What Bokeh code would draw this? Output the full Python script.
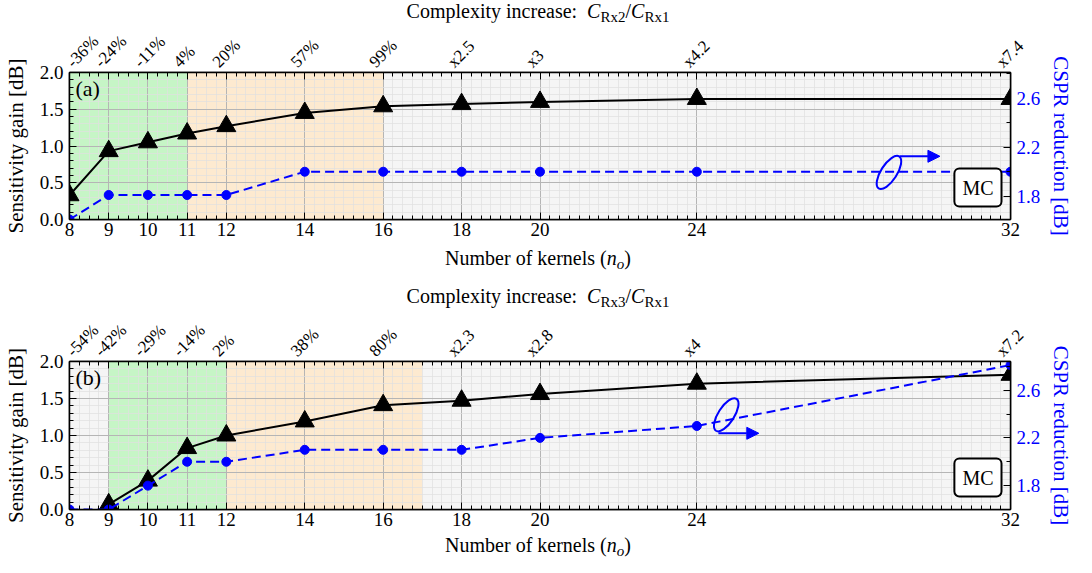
import numpy as np
from bokeh.plotting import figure
from bokeh.models import (Range1d, LinearAxis, FixedTicker, Label, Arrow, NormalHead,
                          PrintfTickFormatter, Div)
from bokeh.layouts import column
from bokeh.embed import file_html
from bokeh.resources import INLINE

# ---------------- data ----------------
kernels = [8, 9, 10, 11, 12, 14, 16, 18, 20, 24, 32]
complexity_a = ["-36%", "-24%", "-11%", "4%", "20%", "57%", "99%", "x2.5", "x3", "x4.2", "x7.4"]
complexity_b = ["-54%", "-42%", "-29%", "-14%", "2%", "38%", "80%", "x2.3", "x2.8", "x4", "x7.2"]
gain_a = [0.33, 0.93, 1.05, 1.17, 1.27, 1.45, 1.54, 1.57, 1.60, 1.64, 1.64]
cspr_a = [1.61, 1.81, 1.81, 1.81, 1.81, 2.0, 2.0, 2.0, 2.0, 2.0, 2.0]
gain_b = [float("nan"), 0.07, 0.39, 0.83, 1.00, 1.19, 1.41, 1.47, 1.56, 1.70, 1.82]
cspr_b = [1.60, 1.60, 1.80, 2.00, 2.00, 2.10, 2.10, 2.10, 2.20, 2.30, 2.81]
zones_a_edges = [8, 11, 16, 32]
zones_a_kind = ["green", "orange", "gray"]
zones_b_edges = [8, 9, 12, 17, 32]
zones_b_kind = ["gray", "green", "orange", "gray"]
cspr_range_a = (1.61, 2.81)
cspr_range_b = (1.60, 2.84)
gain_ticks = [0.0, 0.5, 1.0, 1.5, 2.0]
cspr_ticks = [1.8, 2.2, 2.6]
x_lo, x_hi = 8, 32

ZONE_COLORS = {"green": "#c6f5c6", "orange": "#fdead0", "gray": "#f5f5f5"}
FONT = "Liberation Serif"
W = 1076
LEFT_B = 66
FRAME_W = 950
RIGHT_B = W - LEFT_B - FRAME_W
LABEL_SHIFT = 0.28125  # anchor offset (data units) so rotated labels sit centred on ticks


def style_axis(ax):
    ax.axis_line_color = "black"
    ax.axis_line_width = 1.5
    ax.major_tick_in = 7
    ax.major_tick_out = 0
    ax.minor_tick_in = 4
    ax.minor_tick_out = 0
    ax.major_tick_line_color = "black"
    ax.minor_tick_line_color = "black"
    ax.major_label_text_font = FONT
    ax.major_label_text_font_size = "19px"
    ax.major_label_text_color = "black"
    ax.axis_label_text_font = FONT
    ax.axis_label_text_font_size = "21px"
    ax.axis_label_text_font_style = "normal"
    ax.axis_label_text_color = "black"


def text_div(html, height, line_h, pad_top=0):
    style = (f"display:block;width:{W - 8}px;padding-left:8px;padding-top:{pad_top}px;"
             f"font-family:'{FONT}';font-size:20px;color:black;text-align:center;"
             f"line-height:{line_h}px;margin:0;white-space:nowrap;")
    return Div(text=f'<div style="{style}">{html}</div>', width=W, height=height, margin=0)


SUB = '<span style="font-size:15px;position:relative;top:4px;">{}</span>'


def title_html(num):
    return ("Complexity increase:&nbsp; <i>C</i>" + SUB.format("Rx" + num) + "/<i>C</i>" + SUB.format("Rx1"))


XLABEL_HTML = "Number of kernels (<i>n</i>" + SUB.format("<i>o</i>") + ")"


def panel(tag, labels, gain, cspr, edges, kinds, cspr_range, top, frame_h, bottom,
          loop_xy, arrow_xy):
    p = figure(width=W, height=top + frame_h + bottom, x_range=Range1d(x_lo, x_hi),
               y_range=Range1d(0, 2), output_backend="svg", toolbar_location=None,
               min_border_left=LEFT_B, min_border_right=RIGHT_B,
               min_border_top=top, min_border_bottom=bottom,
               background_fill_color="white", border_fill_color="white",
               outline_line_color="black", outline_line_width=1.5)
    p.extra_y_ranges = {"cspr": Range1d(*cspr_range)}

    xt = FixedTicker(ticks=kernels, minor_ticks=list(np.arange(x_lo, x_hi + 0.001, 0.25)))
    yt = FixedTicker(ticks=gain_ticks, minor_ticks=list(np.arange(0, 2.001, 0.1)))
    rt = FixedTicker(ticks=cspr_ticks, minor_ticks=list(np.arange(1.4, 3.0, 0.2)))

    p.xaxis.ticker = xt
    p.yaxis.ticker = yt
    p.yaxis.formatter = PrintfTickFormatter(format="%.1f")
    style_axis(p.xaxis[0])
    style_axis(p.yaxis[0])
    p.yaxis.axis_label = "Sensitivity gain [dB]"
    p.yaxis.axis_label_standoff = 9
    p.yaxis.major_label_standoff = 6
    p.xaxis.major_label_standoff = 3

    # top axis: tick marks only
    top_ax = LinearAxis(ticker=xt)
    style_axis(top_ax)
    top_ax.major_label_text_color = None
    p.add_layout(top_ax, "above")

    # top axis: rotated complexity-increase labels (anchors nudged left so text centres on tick)
    anchors = [max(k - LABEL_SHIFT, x_lo) for k in kernels]
    lab_ax = LinearAxis(ticker=FixedTicker(ticks=anchors),
                        major_label_overrides={a: s for a, s in zip(anchors, labels)},
                        major_label_orientation=np.pi / 4)
    style_axis(lab_ax)
    lab_ax.axis_line_color = None
    lab_ax.major_tick_line_color = None
    lab_ax.minor_tick_line_color = None
    lab_ax.major_tick_in = 0
    lab_ax.minor_tick_in = 0
    lab_ax.major_label_text_font_size = "17px"
    lab_ax.major_label_standoff = 8
    p.add_layout(lab_ax, "above")

    ra = LinearAxis(y_range_name="cspr", ticker=rt, axis_label="CSPR reduction [dB]",
                    formatter=PrintfTickFormatter(format="%.1f"))
    style_axis(ra)
    ra.major_label_text_color = "blue"
    ra.axis_label_text_color = "blue"
    ra.major_label_standoff = 6
    ra.axis_label_standoff = 6
    p.add_layout(ra, "right")

    p.xgrid.grid_line_color = "#b5b5b5"
    p.ygrid.grid_line_color = "#b5b5b5"
    p.xgrid.minor_grid_line_color = "#e0e0e0"
    p.ygrid.minor_grid_line_color = "#e0e0e0"
    p.xgrid.minor_grid_line_width = 0.7
    p.ygrid.minor_grid_line_width = 0.7

    # shaded zones
    p.quad(left=edges[:-1], right=edges[1:], bottom=0, top=2,
           fill_color=[ZONE_COLORS[k] for k in kinds], line_color=None, level="image")

    # series
    p.line(kernels, gain, line_color="black", line_width=2)
    p.scatter(kernels, gain, marker="triangle", size=19, color="black")
    p.line(kernels, cspr, y_range_name="cspr", line_color="blue", line_width=2, line_dash="9 5")
    p.scatter(kernels, cspr, y_range_name="cspr", marker="circle", size=9, color="blue")

    # panel tag
    p.add_layout(Label(x=6, y=frame_h - 4, x_units="screen", y_units="screen", text=tag,
                       text_font=FONT, text_font_size="22px", text_baseline="top",
                       text_color="black"))

    # MC box
    p.add_layout(Label(x=FRAME_W - 18, y=13, x_units="screen", y_units="screen", text="MC",
                       text_font=FONT, text_font_size="20px", text_align="right",
                       text_baseline="bottom", text_color="black", padding=8,
                       border_line_color="black", border_line_width=2, border_radius=5,
                       background_fill_color="white"))

    # curly arrow marking the right axis
    p.ellipse(x=[loop_xy[0]], y=[loop_xy[1]], width=38, height=16, width_units="screen",
              height_units="screen", angle=1.0, fill_color=None, line_color="blue", line_width=2)
    p.add_layout(Arrow(x_start=arrow_xy[0], y_start=arrow_xy[2], x_end=arrow_xy[1],
                       y_end=arrow_xy[2], line_color="blue", line_width=2,
                       end=NormalHead(size=12, fill_color="blue", line_color="blue")))
    return p


pa = panel("(a)", complexity_a, gain_a, cspr_a, zones_a_edges, zones_a_kind, cspr_range_a,
           top=49, frame_h=148, bottom=28, loop_xy=(28.9, 0.64), arrow_xy=(29.17, 30.2, 0.86))
pb = panel("(b)", complexity_b, gain_b, cspr_b, zones_b_edges, zones_b_kind, cspr_range_b,
           top=49, frame_h=149, bottom=26, loop_xy=(24.75, 1.28), arrow_xy=(24.55, 25.58, 1.03))

layout = column(
    text_div(title_html("2"), 22, 22),
    pa,
    text_div(XLABEL_HTML, 24, 22),
    text_div(title_html("3"), 40, 22, pad_top=14),
    pb,
    text_div(XLABEL_HTML, 22, 20),
    spacing=0,
)
open("out.html", "w").write(file_html(layout, INLINE))
